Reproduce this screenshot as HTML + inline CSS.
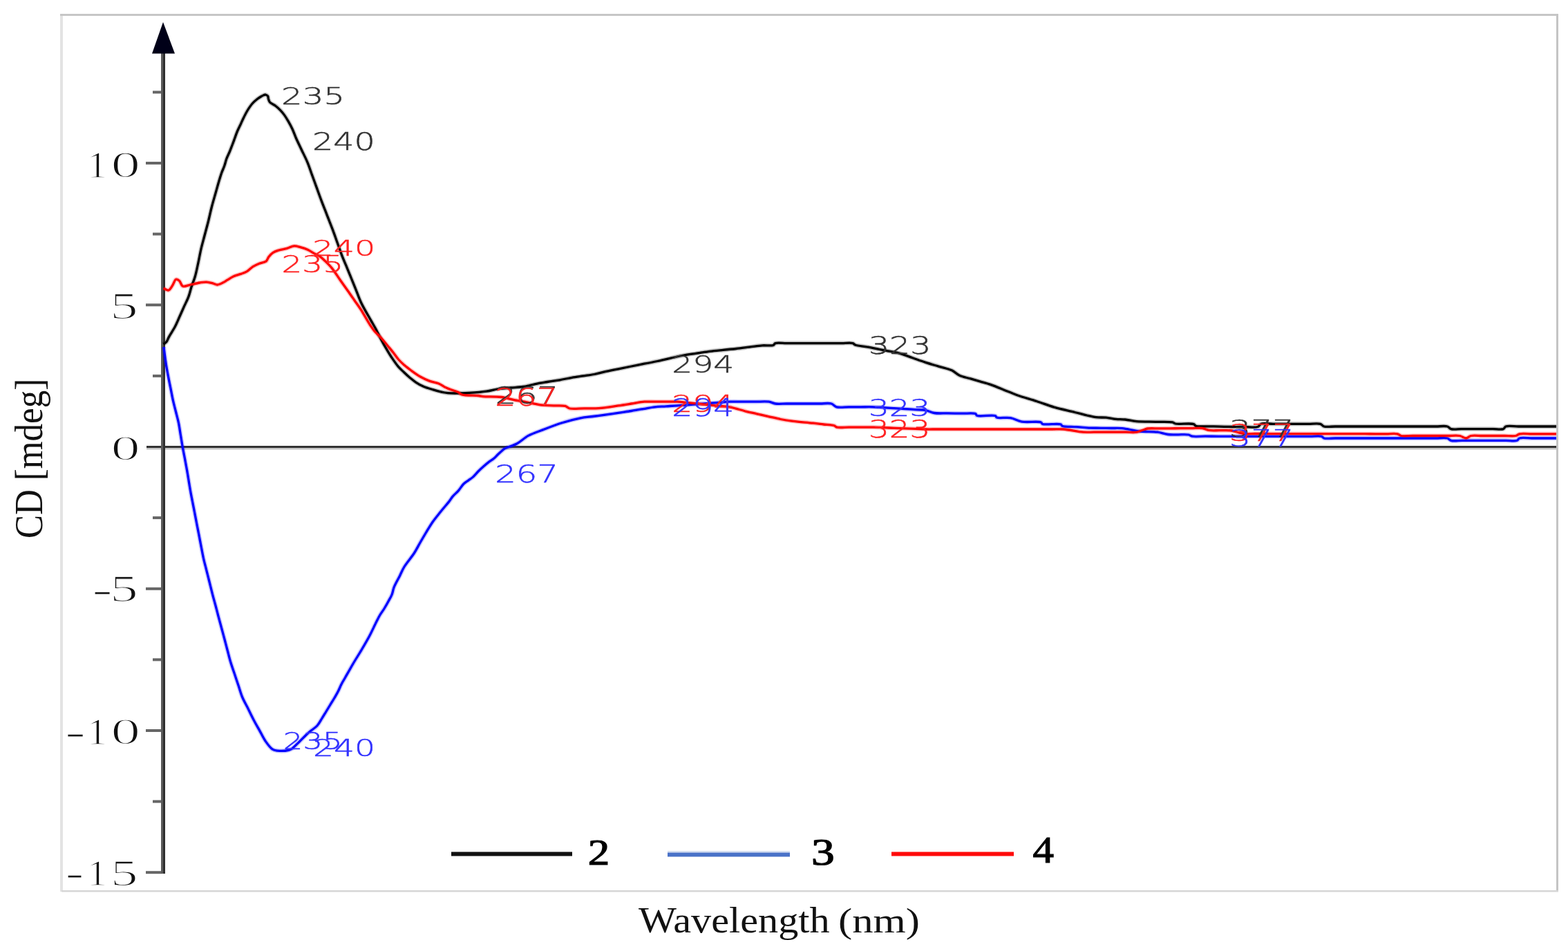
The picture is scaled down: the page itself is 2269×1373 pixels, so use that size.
<!DOCTYPE html><html><head><meta charset="utf-8"><title>CD spectra</title><style>html,body{margin:0;padding:0;background:#fff;width:2269px;height:1373px;overflow:hidden}svg{display:block}text{font-kerning:normal}</style></head><body><svg width="2269" height="1373" viewBox="0 0 2269 1373">
<rect width="2269" height="1373" fill="#fff"/>
<rect x="87" y="20" width="4" height="1270" fill="#e3e3e3"/>
<rect x="87" y="20" width="2168" height="3" fill="#c6c6c6"/>
<rect x="2252" y="20" width="3" height="1270" fill="#c4c4c4"/>
<rect x="89" y="1288" width="2166" height="2.5" fill="#d6d6d6"/>
<rect x="212" y="645" width="2040" height="3" fill="#333"/>
<rect x="212" y="648" width="2040" height="2.5" fill="#c4c4c4"/>
<rect x="211" y="234.0" width="23" height="4" fill="#666"/>
<rect x="211" y="439.2" width="23" height="4" fill="#666"/>
<rect x="211" y="849.8" width="23" height="4" fill="#666"/>
<rect x="211" y="1055.0" width="23" height="4" fill="#666"/>
<rect x="211" y="1260.2" width="23" height="4" fill="#666"/>
<rect x="221" y="131.4" width="13" height="4" fill="#666"/>
<rect x="221" y="336.6" width="13" height="4" fill="#666"/>
<rect x="221" y="541.9" width="13" height="4" fill="#666"/>
<rect x="221" y="747.1" width="13" height="4" fill="#666"/>
<rect x="221" y="952.4" width="13" height="4" fill="#666"/>
<rect x="221" y="1157.6" width="13" height="4" fill="#666"/>
<rect x="233" y="70" width="3" height="1194" fill="#5a5a5a"/>
<rect x="236" y="70" width="3" height="1194" fill="#303030"/>
<polygon points="236,32 253,77.5 220,77.5" fill="#000018"/>
<path d="M236.5,498.0 C237.2,497.4 239.6,496.2 240.8,494.7 C242.3,492.9 242.9,490.2 244.5,487.4 C246.7,483.3 250.6,477.7 253.2,472.8 C255.7,468.0 257.6,463.1 259.8,458.3 C262.0,453.4 264.1,448.6 266.3,443.7 C268.5,438.8 271.1,434.0 272.9,429.1 C274.7,424.3 275.6,419.4 277.2,414.6 C278.8,409.7 280.8,405.3 282.3,400.0 C284.1,393.9 285.4,386.7 286.9,380.0 C288.3,373.3 289.5,366.6 291.0,360.0 C292.6,353.3 294.5,346.7 296.2,340.0 C298.0,333.3 299.8,326.7 301.5,320.0 C303.2,313.3 304.5,306.6 306.2,300.0 C307.9,293.3 309.9,286.7 311.8,280.0 C313.7,273.3 315.8,265.5 317.5,260.0 C318.7,256.1 319.5,253.3 320.7,250.0 C321.9,246.6 323.5,243.4 324.7,240.0 C325.9,236.7 326.5,233.3 327.7,230.0 C328.9,226.6 330.7,223.3 332.1,220.0 C333.5,216.7 334.7,213.3 336.0,210.0 C337.3,206.7 338.5,203.3 339.7,200.0 C340.9,196.7 342.0,193.3 343.4,190.0 C344.8,186.6 346.5,183.3 348.1,180.0 C349.6,176.7 351.1,173.3 352.7,170.0 C354.4,166.6 356.0,163.3 358.0,160.0 C360.1,156.6 362.5,152.9 365.0,150.0 C367.2,147.5 369.7,145.3 372.0,143.5 C374.0,141.9 376.3,140.5 378.0,139.5 C379.2,138.8 380.2,138.2 381.3,137.8 C382.3,137.4 383.2,136.9 384.2,137.0 C385.3,137.2 386.8,138.0 387.5,139.0 C388.3,140.1 388.0,141.9 388.5,143.3 C389.0,144.9 389.4,146.6 390.6,148.0 C392.3,150.0 396.3,151.3 398.8,153.2 C401.3,155.1 403.6,157.3 405.8,159.6 C407.9,161.8 409.7,164.0 411.6,166.6 C413.6,169.4 415.5,172.6 417.4,175.9 C419.4,179.4 421.4,183.1 423.2,187.0 C425.1,191.1 426.5,195.4 428.5,200.0 C430.9,205.4 433.9,211.5 436.6,217.3 C439.4,223.1 442.3,228.7 444.8,234.6 C447.3,240.5 449.2,246.7 451.4,252.7 C453.6,258.8 455.8,264.8 458.0,270.9 C460.2,276.9 462.4,283.3 464.6,289.0 C466.6,294.2 468.4,298.9 470.4,303.9 C472.3,308.8 474.2,313.8 476.1,318.7 C478.1,323.7 480.0,328.4 481.9,333.6 C484.0,339.1 486.0,345.2 488.1,351.0 C490.2,356.7 492.1,362.5 494.3,368.3 C496.5,374.1 499.0,379.9 501.4,385.6 C503.8,391.4 506.1,397.2 508.5,403.0 C510.8,408.8 513.2,414.6 515.5,420.4 C517.8,426.1 519.5,431.5 522.5,437.7 C526.2,445.5 532.5,456.0 536.5,463.1 C539.4,468.2 541.5,471.6 544.0,476.2 C546.7,481.2 549.3,487.1 551.9,492.0 C554.2,496.4 556.4,500.2 558.8,504.2 C561.1,508.2 563.3,511.9 566.0,516.0 C569.1,520.6 572.9,526.4 576.3,530.4 C579.0,533.6 581.5,535.7 584.2,538.3 C587.0,541.0 589.9,543.7 592.9,546.2 C595.8,548.6 598.5,551.0 601.7,553.1 C605.1,555.4 609.0,557.6 613.0,559.3 C617.2,561.1 621.5,562.2 626.2,563.6 C631.6,565.2 638.7,567.1 643.6,568.0 C647.1,568.6 648.8,568.8 652.6,568.9 C659.1,569.1 670.3,568.8 679.0,568.3 C687.5,567.8 696.4,567.2 704.0,566.1 C710.4,565.2 715.8,563.4 721.7,562.6 C727.6,561.8 733.5,561.6 739.4,561.0 C745.2,560.5 751.2,560.4 757.0,559.5 C762.9,558.6 768.7,556.8 774.6,555.6 C780.5,554.4 786.3,553.5 792.2,552.5 C798.1,551.5 803.9,550.8 809.8,549.8 C815.7,548.8 821.7,547.3 827.5,546.3 C833.0,545.3 838.3,544.7 843.8,543.9 C849.2,543.1 854.6,542.5 860.0,541.5 C865.3,540.5 870.3,538.9 875.8,537.7 C881.8,536.4 888.4,535.1 894.7,533.9 C901.0,532.6 907.3,531.3 913.6,530.0 C919.9,528.7 926.2,527.5 932.5,526.2 C938.9,525.0 945.2,523.8 951.5,522.5 C957.8,521.2 964.1,519.7 970.5,518.2 C976.8,516.8 983.1,515.2 989.4,514.0 C995.7,512.8 1002.0,512.1 1008.3,511.1 C1014.7,510.2 1021.0,509.1 1027.3,508.3 C1033.6,507.5 1039.9,507.0 1046.2,506.4 C1052.6,505.8 1058.9,505.2 1065.2,504.5 C1071.5,503.8 1077.8,502.9 1084.1,502.1 C1090.4,501.4 1097.0,500.3 1103.0,499.8 C1108.5,499.4 1115.9,500.7 1119.0,499.4 C1120.6,498.8 1120.4,497.2 1122.0,496.6 C1125.1,495.4 1132.7,496.6 1138.0,496.6 C1143.3,496.6 1148.7,496.6 1154.0,496.6 C1159.3,496.6 1164.7,496.6 1170.0,496.6 C1175.3,496.6 1180.7,496.6 1186.0,496.6 C1191.3,496.6 1196.7,496.6 1202.0,496.6 C1207.3,496.6 1212.7,496.6 1218.0,496.6 C1223.3,496.6 1230.7,495.6 1234.0,496.6 C1235.7,497.1 1235.8,498.3 1237.5,499.0 C1241.0,500.4 1250.2,501.1 1255.0,502.0 C1258.4,502.6 1260.2,502.9 1263.6,503.6 C1268.7,504.6 1276.2,506.1 1282.5,507.4 C1288.9,508.6 1295.2,509.4 1301.5,511.1 C1307.9,512.8 1314.1,515.5 1320.5,517.8 C1326.8,520.0 1333.1,522.3 1339.4,524.4 C1345.7,526.4 1352.0,528.2 1358.3,530.1 C1364.7,532.0 1371.9,533.3 1377.3,535.8 C1381.7,537.9 1384.4,541.3 1388.6,543.3 C1393.1,545.4 1398.7,546.3 1403.7,547.7 C1408.8,549.2 1413.8,550.7 1418.9,552.2 C1423.9,553.6 1428.7,554.8 1434.0,556.6 C1440.0,558.7 1446.7,561.6 1453.0,564.2 C1459.3,566.7 1465.0,569.2 1472.0,571.7 C1480.4,574.7 1490.8,577.5 1500.0,580.5 C1508.9,583.4 1517.7,586.9 1526.4,589.4 C1534.7,591.8 1544.4,593.8 1551.0,595.4 C1555.4,596.5 1558.3,597.3 1562.0,598.2 C1565.7,599.1 1569.1,600.1 1573.0,601.0 C1577.2,602.0 1581.8,603.2 1586.3,603.7 C1591.0,604.3 1595.8,603.8 1600.6,604.2 C1605.4,604.6 1610.3,605.9 1615.0,606.4 C1619.4,606.8 1623.4,606.5 1628.0,607.0 C1633.2,607.5 1638.4,609.1 1644.7,609.7 C1652.7,610.4 1663.3,610.1 1672.2,610.3 C1680.6,610.5 1691.7,609.8 1696.5,610.9 C1698.6,611.4 1698.7,612.5 1700.9,613.0 C1705.9,614.2 1722.8,611.9 1727.3,613.6 C1729.1,614.3 1728.9,615.8 1730.6,616.4 C1734.0,617.7 1742.0,616.6 1747.7,616.8 C1753.4,616.9 1759.2,617.0 1764.9,617.1 C1770.6,617.3 1776.1,617.4 1782.0,617.5 C1788.2,617.6 1794.7,617.5 1801.0,617.5 C1807.3,617.5 1815.9,619.0 1820.0,617.5 C1822.4,616.6 1822.6,614.2 1825.0,613.3 C1828.8,611.9 1836.4,613.3 1842.1,613.3 C1847.8,613.3 1853.5,613.3 1859.2,613.3 C1864.9,613.3 1870.6,613.3 1876.3,613.3 C1882.0,613.3 1887.7,613.3 1893.4,613.3 C1899.1,613.3 1906.5,612.1 1910.5,613.3 C1913.0,614.1 1913.5,616.2 1915.9,617.0 C1919.7,618.2 1926.7,617.0 1932.1,617.0 C1937.5,617.0 1942.9,617.0 1948.3,617.0 C1953.7,617.0 1959.1,617.0 1964.6,617.0 C1970.0,617.0 1975.4,617.0 1980.8,617.0 C1986.2,617.0 1991.6,617.0 1997.0,617.0 C2002.4,617.0 2007.8,617.0 2013.2,617.0 C2018.6,617.0 2024.0,617.0 2029.4,617.0 C2034.8,617.0 2040.2,617.0 2045.6,617.0 C2051.1,617.0 2056.5,617.0 2061.9,617.0 C2067.3,617.0 2072.7,617.0 2078.1,617.0 C2083.5,617.0 2090.5,615.8 2094.3,617.0 C2096.7,617.7 2097.3,619.9 2099.7,620.6 C2103.4,621.7 2109.8,620.6 2114.8,620.6 C2119.9,620.6 2124.9,620.6 2130.0,620.6 C2135.0,620.6 2140.1,620.6 2145.1,620.6 C2150.2,620.6 2155.2,620.6 2160.3,620.6 C2165.3,620.6 2172.2,621.9 2175.4,620.6 C2177.2,619.8 2177.1,617.8 2179.0,617.0 C2182.6,615.5 2191.2,617.0 2197.2,617.0 C2203.3,617.0 2209.4,617.0 2215.5,617.0 C2221.6,617.0 2227.7,617.0 2233.8,617.0 C2239.8,617.0 2249.0,617.0 2252.0,617.0" fill="none" stroke="#000" stroke-opacity="0.22" stroke-width="6.5" stroke-linejoin="round"/>
<path d="M237.0,502.0 C237.5,506.2 239.1,519.4 240.3,527.0 C241.3,533.3 242.3,538.6 243.4,544.4 C244.5,550.2 245.7,556.1 246.9,561.9 C248.1,567.7 249.1,573.7 250.4,579.4 C251.6,584.9 253.1,590.1 254.4,595.5 C255.7,600.9 257.3,606.1 258.4,611.6 C259.6,617.3 260.3,623.2 261.3,629.0 C262.3,634.9 263.2,640.7 264.2,646.5 C265.2,652.1 266.3,657.7 267.4,663.2 C268.4,668.8 269.5,674.6 270.5,680.0 C271.4,685.1 272.2,690.0 273.0,695.0 C273.8,700.0 274.6,704.9 275.5,710.0 C276.4,715.2 277.5,720.5 278.5,725.8 C279.5,731.0 280.6,736.3 281.6,741.5 C282.6,746.8 283.6,752.0 284.6,757.3 C285.7,762.8 286.8,768.5 287.9,774.0 C289.0,779.6 290.0,785.2 291.1,790.8 C292.2,796.3 293.2,801.9 294.4,807.5 C295.6,813.1 297.2,818.7 298.6,824.3 C300.0,829.9 301.4,835.4 302.8,841.0 C304.2,846.6 305.6,852.2 307.0,857.8 C308.4,863.4 310.0,869.0 311.5,874.5 C313.0,880.1 314.4,885.7 315.9,891.3 C317.4,896.8 318.9,902.4 320.4,908.0 C321.9,913.6 323.4,919.2 324.9,924.8 C326.4,930.4 327.8,935.9 329.3,941.5 C330.8,947.1 332.1,952.7 333.8,958.3 C335.5,963.9 337.5,969.5 339.4,975.0 C341.3,980.6 343.1,986.2 345.0,991.8 C346.9,997.3 348.3,1003.0 350.6,1008.5 C352.9,1014.2 356.2,1019.7 359.0,1025.2 C361.7,1030.8 364.4,1036.6 367.3,1042.0 C370.0,1047.2 372.9,1052.1 375.7,1057.1 C378.5,1062.1 380.9,1067.6 384.1,1072.2 C387.1,1076.5 390.7,1081.7 394.1,1083.9 C396.5,1085.5 398.4,1085.7 401.3,1086.1 C405.6,1086.6 413.9,1086.2 417.6,1085.3 C419.7,1084.8 420.5,1084.4 422.3,1083.3 C425.2,1081.4 429.2,1077.0 432.6,1073.7 C436.0,1070.4 439.8,1066.4 442.8,1063.5 C445.1,1061.3 446.8,1059.8 449.2,1057.8 C452.1,1055.4 456.2,1053.0 458.9,1050.0 C461.6,1047.1 463.4,1043.4 465.5,1040.0 C467.6,1036.7 469.6,1033.3 471.6,1030.0 C473.6,1026.7 475.7,1023.3 477.7,1020.0 C479.7,1016.7 481.8,1013.4 483.8,1010.0 C485.7,1006.7 487.7,1003.4 489.4,1000.0 C491.1,996.7 492.3,993.3 494.0,990.0 C495.7,986.6 497.5,983.9 499.7,980.0 C502.8,974.5 507.2,966.6 511.1,960.0 C515.0,953.3 519.4,946.7 523.3,940.0 C527.2,933.4 531.1,926.7 534.7,920.0 C538.2,913.4 541.7,905.5 544.5,900.0 C546.5,896.1 547.8,893.3 549.7,890.0 C551.7,886.6 554.2,883.4 556.3,880.0 C558.3,876.7 560.2,873.4 562.0,870.0 C563.8,866.7 565.9,863.4 567.2,860.0 C568.5,856.7 568.6,853.7 570.0,850.0 C571.9,845.0 576.0,838.2 578.6,832.9 C580.9,828.3 582.2,824.6 585.0,820.0 C588.7,813.9 595.5,806.3 599.5,800.0 C602.9,794.7 605.1,790.0 608.0,785.0 C610.9,780.0 613.8,775.0 616.8,770.0 C619.8,765.0 622.8,759.9 626.2,755.0 C629.8,749.9 633.9,745.0 637.9,740.0 C641.9,735.0 647.2,729.1 650.3,725.0 C652.4,722.3 653.2,720.4 655.2,718.1 C657.5,715.4 660.8,712.9 663.4,709.9 C666.1,706.8 668.3,702.6 671.0,700.0 C673.2,697.8 675.7,696.5 678.0,694.8 C680.2,693.2 682.3,692.0 684.4,690.1 C686.9,687.9 689.4,684.6 692.0,682.0 C694.5,679.5 697.0,677.2 699.5,675.0 C701.8,672.9 704.0,671.0 706.5,669.1 C709.1,667.1 712.3,665.3 714.7,663.3 C716.9,661.5 718.5,659.4 720.5,657.5 C722.6,655.5 725.1,653.2 726.9,651.7 C728.1,650.7 728.4,650.1 730.0,649.2 C733.5,647.1 742.6,644.8 748.3,641.7 C754.0,638.6 758.3,633.7 764.4,630.4 C771.4,626.6 780.4,623.9 788.4,620.8 C796.4,617.7 804.1,614.6 812.4,612.0 C821.2,609.2 831.7,606.4 840.0,604.8 C846.6,603.5 851.9,603.3 857.9,602.5 C863.9,601.7 869.8,601.0 875.8,600.2 C882.0,599.3 888.4,598.3 894.7,597.4 C901.0,596.4 907.5,595.5 913.6,594.5 C919.4,593.6 925.0,592.6 930.7,591.6 C936.3,590.7 942.1,589.4 947.7,588.8 C953.1,588.2 958.5,588.2 963.9,587.8 C969.2,587.5 974.7,587.3 980.0,586.9 C985.1,586.6 990.1,586.1 995.1,585.8 C1000.2,585.4 1005.2,585.0 1010.3,584.6 C1015.3,584.2 1020.4,583.9 1025.4,583.5 C1030.5,583.1 1035.5,582.7 1040.6,582.3 C1045.6,582.0 1050.4,581.4 1055.7,581.2 C1061.7,581.0 1068.3,581.2 1074.6,581.2 C1080.9,581.2 1087.3,581.2 1093.6,581.2 C1099.9,581.2 1107.3,580.5 1112.5,581.2 C1116.3,581.7 1118.4,583.5 1122.0,584.0 C1126.6,584.7 1132.8,584.0 1138.2,584.0 C1143.6,584.0 1149.0,584.0 1154.4,584.0 C1159.8,584.0 1165.2,584.0 1170.6,584.0 C1176.0,584.0 1181.4,584.0 1186.8,584.0 C1192.2,584.0 1198.7,582.8 1203.0,584.0 C1206.2,584.9 1207.4,587.9 1210.6,588.8 C1215.1,590.1 1222.4,588.8 1228.3,588.8 C1234.2,588.8 1240.0,588.8 1245.9,588.8 C1251.8,588.8 1257.9,588.6 1263.6,588.8 C1268.8,589.0 1273.7,589.4 1278.8,589.7 C1283.8,590.1 1288.9,590.4 1293.9,590.7 C1299.0,591.0 1304.0,591.3 1309.1,591.6 C1314.1,591.9 1319.2,592.2 1324.2,592.6 C1329.3,592.9 1334.6,592.6 1339.4,593.5 C1343.8,594.3 1347.3,596.7 1352.0,597.5 C1357.8,598.5 1365.2,597.7 1371.8,597.9 C1378.4,598.0 1385.1,598.1 1391.7,598.2 C1398.3,598.4 1408.3,597.1 1411.5,598.6 C1412.8,599.2 1412.3,600.6 1413.7,601.3 C1417.5,603.1 1436.4,599.8 1440.2,601.6 C1441.6,602.2 1441.1,603.5 1442.4,604.1 C1445.6,605.6 1456.0,603.5 1462.2,604.6 C1468.0,605.6 1472.4,609.0 1478.7,610.1 C1486.6,611.5 1502.4,609.1 1506.3,610.9 C1507.7,611.5 1507.1,612.8 1508.5,613.4 C1512.3,615.2 1531.2,612.3 1535.0,614.0 C1536.3,614.6 1535.9,615.6 1537.1,616.2 C1540.3,617.7 1550.6,617.2 1557.3,617.7 C1564.0,618.1 1571.2,618.8 1577.5,619.1 C1583.0,619.3 1587.8,619.2 1592.9,619.3 C1598.0,619.4 1603.2,619.4 1608.3,619.5 C1613.4,619.6 1617.9,619.2 1623.7,619.7 C1631.3,620.4 1641.3,623.1 1650.0,624.0 C1658.4,624.9 1667.8,624.2 1675.0,625.2 C1680.7,626.0 1685.0,627.9 1690.0,628.5 C1695.0,629.1 1700.0,628.7 1705.0,628.8 C1710.0,628.8 1716.4,628.2 1720.0,629.0 C1722.2,629.5 1722.7,630.7 1725.0,631.2 C1729.2,632.1 1737.7,631.2 1744.0,631.2 C1750.3,631.2 1756.7,631.3 1763.0,631.3 C1769.3,631.3 1775.9,631.3 1782.0,631.3 C1787.6,631.3 1792.9,631.3 1798.3,631.3 C1803.7,631.3 1809.1,631.3 1814.6,631.3 C1820.0,631.3 1825.4,631.3 1830.9,631.3 C1836.3,631.3 1841.7,631.3 1847.2,631.3 C1852.6,631.4 1858.0,631.4 1863.4,631.4 C1868.9,631.4 1874.3,631.4 1879.7,631.4 C1885.2,631.4 1890.6,631.4 1896.0,631.4 C1901.4,631.4 1908.9,630.3 1912.3,631.4 C1914.1,632.0 1914.1,633.4 1915.9,634.0 C1919.3,635.1 1926.7,634.0 1932.1,634.0 C1937.5,634.0 1942.9,634.0 1948.3,634.0 C1953.7,634.0 1959.1,634.0 1964.6,634.0 C1970.0,634.0 1975.4,634.0 1980.8,634.0 C1986.2,634.0 1991.6,634.0 1997.0,634.0 C2002.4,634.0 2007.8,634.0 2013.2,634.0 C2018.6,634.0 2024.0,634.0 2029.4,634.0 C2034.8,634.0 2040.2,634.0 2045.6,634.0 C2051.1,634.0 2056.5,634.0 2061.9,634.0 C2067.3,634.0 2072.7,634.0 2078.1,634.0 C2083.5,634.0 2090.4,632.9 2094.3,634.0 C2096.7,634.7 2097.3,636.6 2099.7,637.3 C2103.5,638.4 2110.3,637.3 2115.6,637.3 C2120.9,637.3 2126.3,637.3 2131.6,637.3 C2136.9,637.3 2142.2,637.3 2147.5,637.3 C2152.8,637.3 2158.1,637.3 2163.4,637.3 C2168.7,637.3 2174.1,637.3 2179.4,637.3 C2184.7,637.3 2192.0,638.6 2195.3,637.3 C2197.1,636.6 2197.0,634.7 2198.9,634.0 C2202.4,632.6 2210.7,634.0 2216.6,634.0 C2222.5,634.0 2228.4,634.0 2234.3,634.0 C2240.2,634.0 2249.1,634.0 2252.0,634.0" fill="none" stroke="#0000ff" stroke-opacity="0.22" stroke-width="6.5" stroke-linejoin="round"/>
<path d="M236.5,417.0 C237.7,417.5 241.7,420.5 243.8,420.0 C246.1,419.4 247.8,415.6 249.6,413.0 C251.5,410.3 252.6,404.9 254.6,404.2 C256.1,403.7 258.0,405.0 259.5,406.2 C261.4,407.8 262.0,412.9 264.4,414.0 C267.1,415.2 271.4,412.8 275.2,412.0 C279.5,411.1 284.8,409.7 289.0,409.0 C292.5,408.5 295.5,407.9 298.8,408.1 C302.1,408.3 305.8,409.4 308.6,410.1 C310.8,410.7 312.4,412.0 314.5,412.0 C316.9,411.9 319.9,410.3 322.3,409.1 C324.6,408.0 326.5,406.6 328.8,405.2 C331.5,403.6 334.5,401.4 337.6,400.0 C340.9,398.5 344.8,397.6 348.2,396.4 C351.3,395.3 354.2,394.5 357.0,392.9 C360.1,391.1 362.7,387.8 365.8,385.8 C368.7,384.0 371.6,382.7 374.7,381.4 C378.0,380.0 382.8,379.8 385.2,377.9 C387.1,376.3 387.3,373.7 388.8,371.7 C390.5,369.5 392.5,367.2 394.9,365.6 C397.4,363.9 400.5,363.0 403.7,362.0 C407.2,360.9 411.5,360.4 415.2,359.4 C418.8,358.4 422.4,356.1 425.8,355.9 C428.8,355.7 431.6,356.8 434.6,357.6 C438.0,358.5 441.8,359.6 445.2,361.2 C448.8,362.8 452.5,365.6 455.7,367.3 C458.3,368.7 460.5,369.4 462.8,370.9 C465.2,372.6 467.3,374.6 469.8,377.0 C473.0,380.1 476.9,383.8 480.4,388.1 C484.5,393.1 488.4,399.7 492.5,405.5 C496.6,411.3 501.1,417.5 504.8,422.8 C507.9,427.3 510.5,431.1 513.4,435.2 C516.3,439.3 518.9,442.8 522.0,447.6 C526.1,453.9 531.7,464.4 535.5,470.1 C537.9,473.7 539.3,475.9 541.8,478.8 C544.7,482.2 548.7,485.7 551.9,489.3 C555.0,492.7 557.7,496.3 560.6,499.8 C563.4,503.2 566.3,506.5 569.0,510.0 C571.7,513.4 574.2,517.4 577.0,520.5 C579.6,523.4 582.2,525.7 585.1,528.3 C588.3,531.1 591.9,533.8 595.6,536.5 C599.7,539.5 604.2,542.8 608.7,545.3 C613.0,547.7 617.4,549.8 621.8,551.4 C626.1,553.0 631.1,553.3 634.9,554.9 C638.2,556.3 640.9,558.7 643.6,560.1 C645.9,561.2 647.5,561.8 650.0,562.8 C653.6,564.2 659.8,566.0 663.1,567.6 C665.3,568.7 665.9,570.1 668.4,570.9 C673.4,572.5 686.7,571.9 692.2,572.5 C695.1,572.8 695.9,573.3 698.8,573.6 C704.7,574.2 717.2,573.5 725.3,574.5 C732.4,575.4 738.5,577.5 745.1,578.8 C751.7,580.1 758.3,581.2 765.0,582.5 C771.6,583.7 778.5,585.4 784.8,586.1 C790.5,586.7 795.8,586.5 801.3,586.8 C806.8,587.0 813.6,586.3 817.8,587.4 C820.6,588.2 821.5,590.3 824.4,591.0 C829.3,592.2 838.4,590.9 845.3,590.9 C852.3,590.8 858.8,591.2 866.3,590.7 C875.1,590.1 886.2,588.1 894.7,586.9 C901.7,585.9 907.3,585.0 913.7,584.0 C920.0,583.1 926.6,581.7 932.6,581.2 C938.1,580.8 943.1,581.2 948.4,581.2 C953.7,581.2 958.9,581.2 964.2,581.2 C969.5,581.2 974.8,580.9 980.0,581.2 C985.1,581.5 990.1,582.2 995.1,582.7 C1000.2,583.2 1005.2,583.7 1010.3,584.2 C1015.3,584.7 1020.4,585.3 1025.4,585.8 C1030.5,586.3 1035.5,586.8 1040.6,587.3 C1045.6,587.8 1050.1,587.8 1055.7,588.8 C1062.9,590.1 1072.8,593.5 1080.0,595.3 C1085.7,596.7 1090.3,597.6 1095.5,598.8 C1100.7,600.0 1105.6,601.1 1111.0,602.3 C1116.9,603.6 1123.3,605.3 1129.4,606.5 C1135.5,607.7 1140.9,608.5 1147.7,609.4 C1156.2,610.5 1168.5,611.3 1176.6,612.2 C1182.5,612.8 1186.7,613.4 1191.8,614.0 C1196.9,614.5 1203.6,614.6 1207.0,615.7 C1208.9,616.3 1209.1,617.6 1211.0,618.1 C1214.7,619.1 1222.7,618.1 1228.5,618.1 C1234.4,618.1 1240.2,618.1 1246.1,618.1 C1251.9,618.1 1258.0,618.0 1263.6,618.1 C1268.8,618.2 1273.7,618.5 1278.8,618.7 C1283.8,618.9 1288.9,619.1 1293.9,619.3 C1299.0,619.5 1304.0,619.6 1309.1,619.8 C1314.1,620.0 1319.2,620.2 1324.2,620.4 C1329.3,620.6 1334.3,620.9 1339.4,621.0 C1344.5,621.1 1349.6,621.0 1354.7,621.0 C1359.9,621.0 1365.0,621.0 1370.1,621.0 C1375.2,621.0 1380.3,621.0 1385.4,621.0 C1390.5,621.0 1395.6,621.0 1400.8,621.0 C1405.9,621.0 1411.0,621.0 1416.1,621.0 C1421.2,621.0 1426.3,621.0 1431.4,621.0 C1436.5,621.0 1441.7,621.0 1446.8,621.0 C1451.9,621.0 1457.0,621.0 1462.1,621.0 C1467.2,621.0 1472.3,621.0 1477.4,621.0 C1482.6,621.0 1487.7,621.0 1492.8,621.0 C1497.9,621.0 1503.0,621.0 1508.1,621.0 C1513.2,621.0 1518.3,621.0 1523.5,621.0 C1528.6,621.0 1532.9,620.6 1538.8,621.0 C1546.9,621.6 1559.4,624.6 1567.5,625.2 C1573.4,625.6 1577.8,625.2 1583.0,625.2 C1588.2,625.2 1593.3,625.2 1598.5,625.2 C1603.7,625.2 1608.8,625.2 1614.0,625.2 C1619.2,625.2 1624.3,625.2 1629.5,625.2 C1634.7,625.2 1640.3,626.0 1645.0,625.2 C1649.0,624.5 1653.0,622.4 1656.0,621.5 C1658.0,620.9 1658.8,620.3 1661.0,620.0 C1664.8,619.4 1671.5,619.9 1676.8,619.9 C1682.1,619.9 1687.3,619.8 1692.6,619.8 C1697.9,619.8 1703.1,619.7 1708.4,619.7 C1713.7,619.7 1718.9,619.6 1724.2,619.6 C1729.5,619.6 1735.5,618.8 1740.0,619.5 C1743.5,620.0 1745.5,621.8 1749.0,622.4 C1753.6,623.2 1760.0,622.6 1765.5,622.7 C1771.0,622.8 1776.4,622.3 1782.0,623.0 C1787.9,623.8 1794.1,626.8 1800.0,627.5 C1805.4,628.2 1810.6,627.5 1815.9,627.5 C1821.2,627.5 1826.5,627.5 1831.7,627.5 C1837.0,627.5 1842.3,627.6 1847.6,627.6 C1852.9,627.6 1858.2,627.6 1863.5,627.6 C1868.8,627.6 1874.1,627.6 1879.4,627.6 C1884.6,627.6 1889.9,627.6 1895.2,627.6 C1900.5,627.6 1905.8,627.6 1911.1,627.6 C1916.4,627.7 1921.7,627.7 1927.0,627.7 C1932.3,627.7 1937.6,627.7 1942.8,627.7 C1948.1,627.7 1953.4,627.7 1958.7,627.7 C1964.0,627.7 1969.3,627.7 1974.6,627.7 C1979.9,627.7 1985.2,627.8 1990.5,627.8 C1995.7,627.8 2001.0,627.8 2006.3,627.8 C2011.6,627.8 2018.4,626.9 2022.2,627.8 C2024.6,628.4 2025.2,629.9 2027.6,630.5 C2031.6,631.4 2038.9,630.5 2044.5,630.5 C2050.2,630.5 2055.8,630.5 2061.5,630.5 C2067.1,630.5 2072.8,630.5 2078.4,630.5 C2084.1,630.5 2089.7,630.5 2095.4,630.5 C2101.0,630.5 2107.6,629.6 2112.3,630.5 C2115.9,631.2 2118.6,634.1 2121.4,634.0 C2124.0,633.9 2125.6,631.2 2128.6,630.5 C2132.8,629.5 2139.4,630.5 2144.8,630.5 C2150.2,630.5 2155.6,630.5 2161.1,630.5 C2166.5,630.5 2171.9,630.5 2177.3,630.5 C2182.7,630.5 2189.6,631.4 2193.5,630.5 C2195.9,629.9 2196.5,628.4 2198.9,627.8 C2203.0,626.8 2210.7,627.8 2216.6,627.8 C2222.5,627.8 2228.4,627.8 2234.3,627.8 C2240.2,627.8 2249.1,627.8 2252.0,627.8" fill="none" stroke="#ff0000" stroke-opacity="0.22" stroke-width="6.5" stroke-linejoin="round"/>
<path d="M236.5,498.0 C237.2,497.4 239.6,496.2 240.8,494.7 C242.3,492.9 242.9,490.2 244.5,487.4 C246.7,483.3 250.6,477.7 253.2,472.8 C255.7,468.0 257.6,463.1 259.8,458.3 C262.0,453.4 264.1,448.6 266.3,443.7 C268.5,438.8 271.1,434.0 272.9,429.1 C274.7,424.3 275.6,419.4 277.2,414.6 C278.8,409.7 280.8,405.3 282.3,400.0 C284.1,393.9 285.4,386.7 286.9,380.0 C288.3,373.3 289.5,366.6 291.0,360.0 C292.6,353.3 294.5,346.7 296.2,340.0 C298.0,333.3 299.8,326.7 301.5,320.0 C303.2,313.3 304.5,306.6 306.2,300.0 C307.9,293.3 309.9,286.7 311.8,280.0 C313.7,273.3 315.8,265.5 317.5,260.0 C318.7,256.1 319.5,253.3 320.7,250.0 C321.9,246.6 323.5,243.4 324.7,240.0 C325.9,236.7 326.5,233.3 327.7,230.0 C328.9,226.6 330.7,223.3 332.1,220.0 C333.5,216.7 334.7,213.3 336.0,210.0 C337.3,206.7 338.5,203.3 339.7,200.0 C340.9,196.7 342.0,193.3 343.4,190.0 C344.8,186.6 346.5,183.3 348.1,180.0 C349.6,176.7 351.1,173.3 352.7,170.0 C354.4,166.6 356.0,163.3 358.0,160.0 C360.1,156.6 362.5,152.9 365.0,150.0 C367.2,147.5 369.7,145.3 372.0,143.5 C374.0,141.9 376.3,140.5 378.0,139.5 C379.2,138.8 380.2,138.2 381.3,137.8 C382.3,137.4 383.2,136.9 384.2,137.0 C385.3,137.2 386.8,138.0 387.5,139.0 C388.3,140.1 388.0,141.9 388.5,143.3 C389.0,144.9 389.4,146.6 390.6,148.0 C392.3,150.0 396.3,151.3 398.8,153.2 C401.3,155.1 403.6,157.3 405.8,159.6 C407.9,161.8 409.7,164.0 411.6,166.6 C413.6,169.4 415.5,172.6 417.4,175.9 C419.4,179.4 421.4,183.1 423.2,187.0 C425.1,191.1 426.5,195.4 428.5,200.0 C430.9,205.4 433.9,211.5 436.6,217.3 C439.4,223.1 442.3,228.7 444.8,234.6 C447.3,240.5 449.2,246.7 451.4,252.7 C453.6,258.8 455.8,264.8 458.0,270.9 C460.2,276.9 462.4,283.3 464.6,289.0 C466.6,294.2 468.4,298.9 470.4,303.9 C472.3,308.8 474.2,313.8 476.1,318.7 C478.1,323.7 480.0,328.4 481.9,333.6 C484.0,339.1 486.0,345.2 488.1,351.0 C490.2,356.7 492.1,362.5 494.3,368.3 C496.5,374.1 499.0,379.9 501.4,385.6 C503.8,391.4 506.1,397.2 508.5,403.0 C510.8,408.8 513.2,414.6 515.5,420.4 C517.8,426.1 519.5,431.5 522.5,437.7 C526.2,445.5 532.5,456.0 536.5,463.1 C539.4,468.2 541.5,471.6 544.0,476.2 C546.7,481.2 549.3,487.1 551.9,492.0 C554.2,496.4 556.4,500.2 558.8,504.2 C561.1,508.2 563.3,511.9 566.0,516.0 C569.1,520.6 572.9,526.4 576.3,530.4 C579.0,533.6 581.5,535.7 584.2,538.3 C587.0,541.0 589.9,543.7 592.9,546.2 C595.8,548.6 598.5,551.0 601.7,553.1 C605.1,555.4 609.0,557.6 613.0,559.3 C617.2,561.1 621.5,562.2 626.2,563.6 C631.6,565.2 638.7,567.1 643.6,568.0 C647.1,568.6 648.8,568.8 652.6,568.9 C659.1,569.1 670.3,568.8 679.0,568.3 C687.5,567.8 696.4,567.2 704.0,566.1 C710.4,565.2 715.8,563.4 721.7,562.6 C727.6,561.8 733.5,561.6 739.4,561.0 C745.2,560.5 751.2,560.4 757.0,559.5 C762.9,558.6 768.7,556.8 774.6,555.6 C780.5,554.4 786.3,553.5 792.2,552.5 C798.1,551.5 803.9,550.8 809.8,549.8 C815.7,548.8 821.7,547.3 827.5,546.3 C833.0,545.3 838.3,544.7 843.8,543.9 C849.2,543.1 854.6,542.5 860.0,541.5 C865.3,540.5 870.3,538.9 875.8,537.7 C881.8,536.4 888.4,535.1 894.7,533.9 C901.0,532.6 907.3,531.3 913.6,530.0 C919.9,528.7 926.2,527.5 932.5,526.2 C938.9,525.0 945.2,523.8 951.5,522.5 C957.8,521.2 964.1,519.7 970.5,518.2 C976.8,516.8 983.1,515.2 989.4,514.0 C995.7,512.8 1002.0,512.1 1008.3,511.1 C1014.7,510.2 1021.0,509.1 1027.3,508.3 C1033.6,507.5 1039.9,507.0 1046.2,506.4 C1052.6,505.8 1058.9,505.2 1065.2,504.5 C1071.5,503.8 1077.8,502.9 1084.1,502.1 C1090.4,501.4 1097.0,500.3 1103.0,499.8 C1108.5,499.4 1115.9,500.7 1119.0,499.4 C1120.6,498.8 1120.4,497.2 1122.0,496.6 C1125.1,495.4 1132.7,496.6 1138.0,496.6 C1143.3,496.6 1148.7,496.6 1154.0,496.6 C1159.3,496.6 1164.7,496.6 1170.0,496.6 C1175.3,496.6 1180.7,496.6 1186.0,496.6 C1191.3,496.6 1196.7,496.6 1202.0,496.6 C1207.3,496.6 1212.7,496.6 1218.0,496.6 C1223.3,496.6 1230.7,495.6 1234.0,496.6 C1235.7,497.1 1235.8,498.3 1237.5,499.0 C1241.0,500.4 1250.2,501.1 1255.0,502.0 C1258.4,502.6 1260.2,502.9 1263.6,503.6 C1268.7,504.6 1276.2,506.1 1282.5,507.4 C1288.9,508.6 1295.2,509.4 1301.5,511.1 C1307.9,512.8 1314.1,515.5 1320.5,517.8 C1326.8,520.0 1333.1,522.3 1339.4,524.4 C1345.7,526.4 1352.0,528.2 1358.3,530.1 C1364.7,532.0 1371.9,533.3 1377.3,535.8 C1381.7,537.9 1384.4,541.3 1388.6,543.3 C1393.1,545.4 1398.7,546.3 1403.7,547.7 C1408.8,549.2 1413.8,550.7 1418.9,552.2 C1423.9,553.6 1428.7,554.8 1434.0,556.6 C1440.0,558.7 1446.7,561.6 1453.0,564.2 C1459.3,566.7 1465.0,569.2 1472.0,571.7 C1480.4,574.7 1490.8,577.5 1500.0,580.5 C1508.9,583.4 1517.7,586.9 1526.4,589.4 C1534.7,591.8 1544.4,593.8 1551.0,595.4 C1555.4,596.5 1558.3,597.3 1562.0,598.2 C1565.7,599.1 1569.1,600.1 1573.0,601.0 C1577.2,602.0 1581.8,603.2 1586.3,603.7 C1591.0,604.3 1595.8,603.8 1600.6,604.2 C1605.4,604.6 1610.3,605.9 1615.0,606.4 C1619.4,606.8 1623.4,606.5 1628.0,607.0 C1633.2,607.5 1638.4,609.1 1644.7,609.7 C1652.7,610.4 1663.3,610.1 1672.2,610.3 C1680.6,610.5 1691.7,609.8 1696.5,610.9 C1698.6,611.4 1698.7,612.5 1700.9,613.0 C1705.9,614.2 1722.8,611.9 1727.3,613.6 C1729.1,614.3 1728.9,615.8 1730.6,616.4 C1734.0,617.7 1742.0,616.6 1747.7,616.8 C1753.4,616.9 1759.2,617.0 1764.9,617.1 C1770.6,617.3 1776.1,617.4 1782.0,617.5 C1788.2,617.6 1794.7,617.5 1801.0,617.5 C1807.3,617.5 1815.9,619.0 1820.0,617.5 C1822.4,616.6 1822.6,614.2 1825.0,613.3 C1828.8,611.9 1836.4,613.3 1842.1,613.3 C1847.8,613.3 1853.5,613.3 1859.2,613.3 C1864.9,613.3 1870.6,613.3 1876.3,613.3 C1882.0,613.3 1887.7,613.3 1893.4,613.3 C1899.1,613.3 1906.5,612.1 1910.5,613.3 C1913.0,614.1 1913.5,616.2 1915.9,617.0 C1919.7,618.2 1926.7,617.0 1932.1,617.0 C1937.5,617.0 1942.9,617.0 1948.3,617.0 C1953.7,617.0 1959.1,617.0 1964.6,617.0 C1970.0,617.0 1975.4,617.0 1980.8,617.0 C1986.2,617.0 1991.6,617.0 1997.0,617.0 C2002.4,617.0 2007.8,617.0 2013.2,617.0 C2018.6,617.0 2024.0,617.0 2029.4,617.0 C2034.8,617.0 2040.2,617.0 2045.6,617.0 C2051.1,617.0 2056.5,617.0 2061.9,617.0 C2067.3,617.0 2072.7,617.0 2078.1,617.0 C2083.5,617.0 2090.5,615.8 2094.3,617.0 C2096.7,617.7 2097.3,619.9 2099.7,620.6 C2103.4,621.7 2109.8,620.6 2114.8,620.6 C2119.9,620.6 2124.9,620.6 2130.0,620.6 C2135.0,620.6 2140.1,620.6 2145.1,620.6 C2150.2,620.6 2155.2,620.6 2160.3,620.6 C2165.3,620.6 2172.2,621.9 2175.4,620.6 C2177.2,619.8 2177.1,617.8 2179.0,617.0 C2182.6,615.5 2191.2,617.0 2197.2,617.0 C2203.3,617.0 2209.4,617.0 2215.5,617.0 C2221.6,617.0 2227.7,617.0 2233.8,617.0 C2239.8,617.0 2249.0,617.0 2252.0,617.0" fill="none" stroke="#000" stroke-width="3.3" stroke-linejoin="round"/>
<path d="M237.0,502.0 C237.5,506.2 239.1,519.4 240.3,527.0 C241.3,533.3 242.3,538.6 243.4,544.4 C244.5,550.2 245.7,556.1 246.9,561.9 C248.1,567.7 249.1,573.7 250.4,579.4 C251.6,584.9 253.1,590.1 254.4,595.5 C255.7,600.9 257.3,606.1 258.4,611.6 C259.6,617.3 260.3,623.2 261.3,629.0 C262.3,634.9 263.2,640.7 264.2,646.5 C265.2,652.1 266.3,657.7 267.4,663.2 C268.4,668.8 269.5,674.6 270.5,680.0 C271.4,685.1 272.2,690.0 273.0,695.0 C273.8,700.0 274.6,704.9 275.5,710.0 C276.4,715.2 277.5,720.5 278.5,725.8 C279.5,731.0 280.6,736.3 281.6,741.5 C282.6,746.8 283.6,752.0 284.6,757.3 C285.7,762.8 286.8,768.5 287.9,774.0 C289.0,779.6 290.0,785.2 291.1,790.8 C292.2,796.3 293.2,801.9 294.4,807.5 C295.6,813.1 297.2,818.7 298.6,824.3 C300.0,829.9 301.4,835.4 302.8,841.0 C304.2,846.6 305.6,852.2 307.0,857.8 C308.4,863.4 310.0,869.0 311.5,874.5 C313.0,880.1 314.4,885.7 315.9,891.3 C317.4,896.8 318.9,902.4 320.4,908.0 C321.9,913.6 323.4,919.2 324.9,924.8 C326.4,930.4 327.8,935.9 329.3,941.5 C330.8,947.1 332.1,952.7 333.8,958.3 C335.5,963.9 337.5,969.5 339.4,975.0 C341.3,980.6 343.1,986.2 345.0,991.8 C346.9,997.3 348.3,1003.0 350.6,1008.5 C352.9,1014.2 356.2,1019.7 359.0,1025.2 C361.7,1030.8 364.4,1036.6 367.3,1042.0 C370.0,1047.2 372.9,1052.1 375.7,1057.1 C378.5,1062.1 380.9,1067.6 384.1,1072.2 C387.1,1076.5 390.7,1081.7 394.1,1083.9 C396.5,1085.5 398.4,1085.7 401.3,1086.1 C405.6,1086.6 413.9,1086.2 417.6,1085.3 C419.7,1084.8 420.5,1084.4 422.3,1083.3 C425.2,1081.4 429.2,1077.0 432.6,1073.7 C436.0,1070.4 439.8,1066.4 442.8,1063.5 C445.1,1061.3 446.8,1059.8 449.2,1057.8 C452.1,1055.4 456.2,1053.0 458.9,1050.0 C461.6,1047.1 463.4,1043.4 465.5,1040.0 C467.6,1036.7 469.6,1033.3 471.6,1030.0 C473.6,1026.7 475.7,1023.3 477.7,1020.0 C479.7,1016.7 481.8,1013.4 483.8,1010.0 C485.7,1006.7 487.7,1003.4 489.4,1000.0 C491.1,996.7 492.3,993.3 494.0,990.0 C495.7,986.6 497.5,983.9 499.7,980.0 C502.8,974.5 507.2,966.6 511.1,960.0 C515.0,953.3 519.4,946.7 523.3,940.0 C527.2,933.4 531.1,926.7 534.7,920.0 C538.2,913.4 541.7,905.5 544.5,900.0 C546.5,896.1 547.8,893.3 549.7,890.0 C551.7,886.6 554.2,883.4 556.3,880.0 C558.3,876.7 560.2,873.4 562.0,870.0 C563.8,866.7 565.9,863.4 567.2,860.0 C568.5,856.7 568.6,853.7 570.0,850.0 C571.9,845.0 576.0,838.2 578.6,832.9 C580.9,828.3 582.2,824.6 585.0,820.0 C588.7,813.9 595.5,806.3 599.5,800.0 C602.9,794.7 605.1,790.0 608.0,785.0 C610.9,780.0 613.8,775.0 616.8,770.0 C619.8,765.0 622.8,759.9 626.2,755.0 C629.8,749.9 633.9,745.0 637.9,740.0 C641.9,735.0 647.2,729.1 650.3,725.0 C652.4,722.3 653.2,720.4 655.2,718.1 C657.5,715.4 660.8,712.9 663.4,709.9 C666.1,706.8 668.3,702.6 671.0,700.0 C673.2,697.8 675.7,696.5 678.0,694.8 C680.2,693.2 682.3,692.0 684.4,690.1 C686.9,687.9 689.4,684.6 692.0,682.0 C694.5,679.5 697.0,677.2 699.5,675.0 C701.8,672.9 704.0,671.0 706.5,669.1 C709.1,667.1 712.3,665.3 714.7,663.3 C716.9,661.5 718.5,659.4 720.5,657.5 C722.6,655.5 725.1,653.2 726.9,651.7 C728.1,650.7 728.4,650.1 730.0,649.2 C733.5,647.1 742.6,644.8 748.3,641.7 C754.0,638.6 758.3,633.7 764.4,630.4 C771.4,626.6 780.4,623.9 788.4,620.8 C796.4,617.7 804.1,614.6 812.4,612.0 C821.2,609.2 831.7,606.4 840.0,604.8 C846.6,603.5 851.9,603.3 857.9,602.5 C863.9,601.7 869.8,601.0 875.8,600.2 C882.0,599.3 888.4,598.3 894.7,597.4 C901.0,596.4 907.5,595.5 913.6,594.5 C919.4,593.6 925.0,592.6 930.7,591.6 C936.3,590.7 942.1,589.4 947.7,588.8 C953.1,588.2 958.5,588.2 963.9,587.8 C969.2,587.5 974.7,587.3 980.0,586.9 C985.1,586.6 990.1,586.1 995.1,585.8 C1000.2,585.4 1005.2,585.0 1010.3,584.6 C1015.3,584.2 1020.4,583.9 1025.4,583.5 C1030.5,583.1 1035.5,582.7 1040.6,582.3 C1045.6,582.0 1050.4,581.4 1055.7,581.2 C1061.7,581.0 1068.3,581.2 1074.6,581.2 C1080.9,581.2 1087.3,581.2 1093.6,581.2 C1099.9,581.2 1107.3,580.5 1112.5,581.2 C1116.3,581.7 1118.4,583.5 1122.0,584.0 C1126.6,584.7 1132.8,584.0 1138.2,584.0 C1143.6,584.0 1149.0,584.0 1154.4,584.0 C1159.8,584.0 1165.2,584.0 1170.6,584.0 C1176.0,584.0 1181.4,584.0 1186.8,584.0 C1192.2,584.0 1198.7,582.8 1203.0,584.0 C1206.2,584.9 1207.4,587.9 1210.6,588.8 C1215.1,590.1 1222.4,588.8 1228.3,588.8 C1234.2,588.8 1240.0,588.8 1245.9,588.8 C1251.8,588.8 1257.9,588.6 1263.6,588.8 C1268.8,589.0 1273.7,589.4 1278.8,589.7 C1283.8,590.1 1288.9,590.4 1293.9,590.7 C1299.0,591.0 1304.0,591.3 1309.1,591.6 C1314.1,591.9 1319.2,592.2 1324.2,592.6 C1329.3,592.9 1334.6,592.6 1339.4,593.5 C1343.8,594.3 1347.3,596.7 1352.0,597.5 C1357.8,598.5 1365.2,597.7 1371.8,597.9 C1378.4,598.0 1385.1,598.1 1391.7,598.2 C1398.3,598.4 1408.3,597.1 1411.5,598.6 C1412.8,599.2 1412.3,600.6 1413.7,601.3 C1417.5,603.1 1436.4,599.8 1440.2,601.6 C1441.6,602.2 1441.1,603.5 1442.4,604.1 C1445.6,605.6 1456.0,603.5 1462.2,604.6 C1468.0,605.6 1472.4,609.0 1478.7,610.1 C1486.6,611.5 1502.4,609.1 1506.3,610.9 C1507.7,611.5 1507.1,612.8 1508.5,613.4 C1512.3,615.2 1531.2,612.3 1535.0,614.0 C1536.3,614.6 1535.9,615.6 1537.1,616.2 C1540.3,617.7 1550.6,617.2 1557.3,617.7 C1564.0,618.1 1571.2,618.8 1577.5,619.1 C1583.0,619.3 1587.8,619.2 1592.9,619.3 C1598.0,619.4 1603.2,619.4 1608.3,619.5 C1613.4,619.6 1617.9,619.2 1623.7,619.7 C1631.3,620.4 1641.3,623.1 1650.0,624.0 C1658.4,624.9 1667.8,624.2 1675.0,625.2 C1680.7,626.0 1685.0,627.9 1690.0,628.5 C1695.0,629.1 1700.0,628.7 1705.0,628.8 C1710.0,628.8 1716.4,628.2 1720.0,629.0 C1722.2,629.5 1722.7,630.7 1725.0,631.2 C1729.2,632.1 1737.7,631.2 1744.0,631.2 C1750.3,631.2 1756.7,631.3 1763.0,631.3 C1769.3,631.3 1775.9,631.3 1782.0,631.3 C1787.6,631.3 1792.9,631.3 1798.3,631.3 C1803.7,631.3 1809.1,631.3 1814.6,631.3 C1820.0,631.3 1825.4,631.3 1830.9,631.3 C1836.3,631.3 1841.7,631.3 1847.2,631.3 C1852.6,631.4 1858.0,631.4 1863.4,631.4 C1868.9,631.4 1874.3,631.4 1879.7,631.4 C1885.2,631.4 1890.6,631.4 1896.0,631.4 C1901.4,631.4 1908.9,630.3 1912.3,631.4 C1914.1,632.0 1914.1,633.4 1915.9,634.0 C1919.3,635.1 1926.7,634.0 1932.1,634.0 C1937.5,634.0 1942.9,634.0 1948.3,634.0 C1953.7,634.0 1959.1,634.0 1964.6,634.0 C1970.0,634.0 1975.4,634.0 1980.8,634.0 C1986.2,634.0 1991.6,634.0 1997.0,634.0 C2002.4,634.0 2007.8,634.0 2013.2,634.0 C2018.6,634.0 2024.0,634.0 2029.4,634.0 C2034.8,634.0 2040.2,634.0 2045.6,634.0 C2051.1,634.0 2056.5,634.0 2061.9,634.0 C2067.3,634.0 2072.7,634.0 2078.1,634.0 C2083.5,634.0 2090.4,632.9 2094.3,634.0 C2096.7,634.7 2097.3,636.6 2099.7,637.3 C2103.5,638.4 2110.3,637.3 2115.6,637.3 C2120.9,637.3 2126.3,637.3 2131.6,637.3 C2136.9,637.3 2142.2,637.3 2147.5,637.3 C2152.8,637.3 2158.1,637.3 2163.4,637.3 C2168.7,637.3 2174.1,637.3 2179.4,637.3 C2184.7,637.3 2192.0,638.6 2195.3,637.3 C2197.1,636.6 2197.0,634.7 2198.9,634.0 C2202.4,632.6 2210.7,634.0 2216.6,634.0 C2222.5,634.0 2228.4,634.0 2234.3,634.0 C2240.2,634.0 2249.1,634.0 2252.0,634.0" fill="none" stroke="#0000ff" stroke-width="3.3" stroke-linejoin="round"/>
<path d="M236.5,417.0 C237.7,417.5 241.7,420.5 243.8,420.0 C246.1,419.4 247.8,415.6 249.6,413.0 C251.5,410.3 252.6,404.9 254.6,404.2 C256.1,403.7 258.0,405.0 259.5,406.2 C261.4,407.8 262.0,412.9 264.4,414.0 C267.1,415.2 271.4,412.8 275.2,412.0 C279.5,411.1 284.8,409.7 289.0,409.0 C292.5,408.5 295.5,407.9 298.8,408.1 C302.1,408.3 305.8,409.4 308.6,410.1 C310.8,410.7 312.4,412.0 314.5,412.0 C316.9,411.9 319.9,410.3 322.3,409.1 C324.6,408.0 326.5,406.6 328.8,405.2 C331.5,403.6 334.5,401.4 337.6,400.0 C340.9,398.5 344.8,397.6 348.2,396.4 C351.3,395.3 354.2,394.5 357.0,392.9 C360.1,391.1 362.7,387.8 365.8,385.8 C368.7,384.0 371.6,382.7 374.7,381.4 C378.0,380.0 382.8,379.8 385.2,377.9 C387.1,376.3 387.3,373.7 388.8,371.7 C390.5,369.5 392.5,367.2 394.9,365.6 C397.4,363.9 400.5,363.0 403.7,362.0 C407.2,360.9 411.5,360.4 415.2,359.4 C418.8,358.4 422.4,356.1 425.8,355.9 C428.8,355.7 431.6,356.8 434.6,357.6 C438.0,358.5 441.8,359.6 445.2,361.2 C448.8,362.8 452.5,365.6 455.7,367.3 C458.3,368.7 460.5,369.4 462.8,370.9 C465.2,372.6 467.3,374.6 469.8,377.0 C473.0,380.1 476.9,383.8 480.4,388.1 C484.5,393.1 488.4,399.7 492.5,405.5 C496.6,411.3 501.1,417.5 504.8,422.8 C507.9,427.3 510.5,431.1 513.4,435.2 C516.3,439.3 518.9,442.8 522.0,447.6 C526.1,453.9 531.7,464.4 535.5,470.1 C537.9,473.7 539.3,475.9 541.8,478.8 C544.7,482.2 548.7,485.7 551.9,489.3 C555.0,492.7 557.7,496.3 560.6,499.8 C563.4,503.2 566.3,506.5 569.0,510.0 C571.7,513.4 574.2,517.4 577.0,520.5 C579.6,523.4 582.2,525.7 585.1,528.3 C588.3,531.1 591.9,533.8 595.6,536.5 C599.7,539.5 604.2,542.8 608.7,545.3 C613.0,547.7 617.4,549.8 621.8,551.4 C626.1,553.0 631.1,553.3 634.9,554.9 C638.2,556.3 640.9,558.7 643.6,560.1 C645.9,561.2 647.5,561.8 650.0,562.8 C653.6,564.2 659.8,566.0 663.1,567.6 C665.3,568.7 665.9,570.1 668.4,570.9 C673.4,572.5 686.7,571.9 692.2,572.5 C695.1,572.8 695.9,573.3 698.8,573.6 C704.7,574.2 717.2,573.5 725.3,574.5 C732.4,575.4 738.5,577.5 745.1,578.8 C751.7,580.1 758.3,581.2 765.0,582.5 C771.6,583.7 778.5,585.4 784.8,586.1 C790.5,586.7 795.8,586.5 801.3,586.8 C806.8,587.0 813.6,586.3 817.8,587.4 C820.6,588.2 821.5,590.3 824.4,591.0 C829.3,592.2 838.4,590.9 845.3,590.9 C852.3,590.8 858.8,591.2 866.3,590.7 C875.1,590.1 886.2,588.1 894.7,586.9 C901.7,585.9 907.3,585.0 913.7,584.0 C920.0,583.1 926.6,581.7 932.6,581.2 C938.1,580.8 943.1,581.2 948.4,581.2 C953.7,581.2 958.9,581.2 964.2,581.2 C969.5,581.2 974.8,580.9 980.0,581.2 C985.1,581.5 990.1,582.2 995.1,582.7 C1000.2,583.2 1005.2,583.7 1010.3,584.2 C1015.3,584.7 1020.4,585.3 1025.4,585.8 C1030.5,586.3 1035.5,586.8 1040.6,587.3 C1045.6,587.8 1050.1,587.8 1055.7,588.8 C1062.9,590.1 1072.8,593.5 1080.0,595.3 C1085.7,596.7 1090.3,597.6 1095.5,598.8 C1100.7,600.0 1105.6,601.1 1111.0,602.3 C1116.9,603.6 1123.3,605.3 1129.4,606.5 C1135.5,607.7 1140.9,608.5 1147.7,609.4 C1156.2,610.5 1168.5,611.3 1176.6,612.2 C1182.5,612.8 1186.7,613.4 1191.8,614.0 C1196.9,614.5 1203.6,614.6 1207.0,615.7 C1208.9,616.3 1209.1,617.6 1211.0,618.1 C1214.7,619.1 1222.7,618.1 1228.5,618.1 C1234.4,618.1 1240.2,618.1 1246.1,618.1 C1251.9,618.1 1258.0,618.0 1263.6,618.1 C1268.8,618.2 1273.7,618.5 1278.8,618.7 C1283.8,618.9 1288.9,619.1 1293.9,619.3 C1299.0,619.5 1304.0,619.6 1309.1,619.8 C1314.1,620.0 1319.2,620.2 1324.2,620.4 C1329.3,620.6 1334.3,620.9 1339.4,621.0 C1344.5,621.1 1349.6,621.0 1354.7,621.0 C1359.9,621.0 1365.0,621.0 1370.1,621.0 C1375.2,621.0 1380.3,621.0 1385.4,621.0 C1390.5,621.0 1395.6,621.0 1400.8,621.0 C1405.9,621.0 1411.0,621.0 1416.1,621.0 C1421.2,621.0 1426.3,621.0 1431.4,621.0 C1436.5,621.0 1441.7,621.0 1446.8,621.0 C1451.9,621.0 1457.0,621.0 1462.1,621.0 C1467.2,621.0 1472.3,621.0 1477.4,621.0 C1482.6,621.0 1487.7,621.0 1492.8,621.0 C1497.9,621.0 1503.0,621.0 1508.1,621.0 C1513.2,621.0 1518.3,621.0 1523.5,621.0 C1528.6,621.0 1532.9,620.6 1538.8,621.0 C1546.9,621.6 1559.4,624.6 1567.5,625.2 C1573.4,625.6 1577.8,625.2 1583.0,625.2 C1588.2,625.2 1593.3,625.2 1598.5,625.2 C1603.7,625.2 1608.8,625.2 1614.0,625.2 C1619.2,625.2 1624.3,625.2 1629.5,625.2 C1634.7,625.2 1640.3,626.0 1645.0,625.2 C1649.0,624.5 1653.0,622.4 1656.0,621.5 C1658.0,620.9 1658.8,620.3 1661.0,620.0 C1664.8,619.4 1671.5,619.9 1676.8,619.9 C1682.1,619.9 1687.3,619.8 1692.6,619.8 C1697.9,619.8 1703.1,619.7 1708.4,619.7 C1713.7,619.7 1718.9,619.6 1724.2,619.6 C1729.5,619.6 1735.5,618.8 1740.0,619.5 C1743.5,620.0 1745.5,621.8 1749.0,622.4 C1753.6,623.2 1760.0,622.6 1765.5,622.7 C1771.0,622.8 1776.4,622.3 1782.0,623.0 C1787.9,623.8 1794.1,626.8 1800.0,627.5 C1805.4,628.2 1810.6,627.5 1815.9,627.5 C1821.2,627.5 1826.5,627.5 1831.7,627.5 C1837.0,627.5 1842.3,627.6 1847.6,627.6 C1852.9,627.6 1858.2,627.6 1863.5,627.6 C1868.8,627.6 1874.1,627.6 1879.4,627.6 C1884.6,627.6 1889.9,627.6 1895.2,627.6 C1900.5,627.6 1905.8,627.6 1911.1,627.6 C1916.4,627.7 1921.7,627.7 1927.0,627.7 C1932.3,627.7 1937.6,627.7 1942.8,627.7 C1948.1,627.7 1953.4,627.7 1958.7,627.7 C1964.0,627.7 1969.3,627.7 1974.6,627.7 C1979.9,627.7 1985.2,627.8 1990.5,627.8 C1995.7,627.8 2001.0,627.8 2006.3,627.8 C2011.6,627.8 2018.4,626.9 2022.2,627.8 C2024.6,628.4 2025.2,629.9 2027.6,630.5 C2031.6,631.4 2038.9,630.5 2044.5,630.5 C2050.2,630.5 2055.8,630.5 2061.5,630.5 C2067.1,630.5 2072.8,630.5 2078.4,630.5 C2084.1,630.5 2089.7,630.5 2095.4,630.5 C2101.0,630.5 2107.6,629.6 2112.3,630.5 C2115.9,631.2 2118.6,634.1 2121.4,634.0 C2124.0,633.9 2125.6,631.2 2128.6,630.5 C2132.8,629.5 2139.4,630.5 2144.8,630.5 C2150.2,630.5 2155.6,630.5 2161.1,630.5 C2166.5,630.5 2171.9,630.5 2177.3,630.5 C2182.7,630.5 2189.6,631.4 2193.5,630.5 C2195.9,629.9 2196.5,628.4 2198.9,627.8 C2203.0,626.8 2210.7,627.8 2216.6,627.8 C2222.5,627.8 2228.4,627.8 2234.3,627.8 C2240.2,627.8 2249.1,627.8 2252.0,627.8" fill="none" stroke="#ff0000" stroke-width="3.3" stroke-linejoin="round"/>
<text transform="translate(407.03,151.16) scale(1.4038,1)" font-family="'DejaVu Sans', sans-serif" font-size="34.34" font-weight="200" fill="#333" stroke="#333" stroke-width="0.5">235</text>
<text transform="translate(451.97,217.25) scale(1.3651,1)" font-family="'DejaVu Sans', sans-serif" font-size="34.87" font-weight="200" fill="#333" stroke="#333" stroke-width="0.5">240</text>
<text transform="translate(716.65,584.15) scale(1.3831,1)" font-family="'DejaVu Sans', sans-serif" font-size="34.61" font-weight="200" fill="#333" stroke="#333" stroke-width="0.5">267</text>
<text transform="translate(972.19,538.86) scale(1.3713,1)" font-family="'DejaVu Sans', sans-serif" font-size="34.47" font-weight="200" fill="#333" stroke="#333" stroke-width="0.5">294</text>
<text transform="translate(1257.01,511.75) scale(1.3573,1)" font-family="'DejaVu Sans', sans-serif" font-size="34.87" font-weight="200" fill="#333" stroke="#333" stroke-width="0.5">323</text>
<text transform="translate(1779.09,631.66) scale(1.4275,1)" font-family="'DejaVu Sans', sans-serif" font-size="34.21" font-weight="200" fill="#333" stroke="#333" stroke-width="0.5">377</text>
<text transform="translate(452.37,369.68) scale(1.4646,1)" font-family="'DejaVu Sans', sans-serif" font-size="32.50" font-weight="200" fill="#f22" stroke="#f22" stroke-width="0.5">240</text>
<text transform="translate(407.52,394.26) scale(1.3972,1)" font-family="'DejaVu Sans', sans-serif" font-size="33.55" font-weight="200" fill="#f22" stroke="#f22" stroke-width="0.5">235</text>
<text transform="translate(716.18,586.95) scale(1.3697,1)" font-family="'DejaVu Sans', sans-serif" font-size="34.61" font-weight="200" fill="#f22" stroke="#f22" stroke-width="0.5">267</text>
<text transform="translate(972.19,595.86) scale(1.3765,1)" font-family="'DejaVu Sans', sans-serif" font-size="34.34" font-weight="200" fill="#f22" stroke="#f22" stroke-width="0.5">294</text>
<text transform="translate(1257.06,632.95) scale(1.3423,1)" font-family="'DejaVu Sans', sans-serif" font-size="34.87" font-weight="200" fill="#f22" stroke="#f22" stroke-width="0.5">323</text>
<text transform="translate(1779.09,637.66) scale(1.4275,1)" font-family="'DejaVu Sans', sans-serif" font-size="34.21" font-weight="200" fill="#f22" stroke="#f22" stroke-width="0.5">377</text>
<text transform="translate(409.86,1084.27) scale(1.3582,1)" font-family="'DejaVu Sans', sans-serif" font-size="33.03" font-weight="200" fill="#33f" stroke="#33f" stroke-width="0.5">235</text>
<text transform="translate(453.00,1094.06) scale(1.3797,1)" font-family="'DejaVu Sans', sans-serif" font-size="34.21" font-weight="200" fill="#33f" stroke="#33f" stroke-width="0.5">240</text>
<text transform="translate(716.13,698.25) scale(1.3809,1)" font-family="'DejaVu Sans', sans-serif" font-size="34.87" font-weight="200" fill="#33f" stroke="#33f" stroke-width="0.5">267</text>
<text transform="translate(972.19,602.45) scale(1.3557,1)" font-family="'DejaVu Sans', sans-serif" font-size="34.87" font-weight="200" fill="#33f" stroke="#33f" stroke-width="0.5">294</text>
<text transform="translate(1257.06,601.66) scale(1.3949,1)" font-family="'DejaVu Sans', sans-serif" font-size="33.55" font-weight="200" fill="#33f" stroke="#33f" stroke-width="0.5">323</text>
<text transform="translate(1779.09,645.66) scale(1.4275,1)" font-family="'DejaVu Sans', sans-serif" font-size="34.21" font-weight="200" fill="#33f" stroke="#33f" stroke-width="0.5">377</text>
<text transform="translate(125.57,256.90) scale(1.1145,1)" font-family="'Liberation Serif', serif" font-size="54.09" font-weight="400" fill="#111" stroke="#fff" stroke-width="1.4">1</text>
<text transform="translate(160.60,255.85) scale(1.6190,1)" font-family="'Liberation Serif', serif" font-size="52.50" font-weight="400" fill="#111" stroke="#fff" stroke-width="1.4">0</text>
<text transform="translate(159.14,461.06) scale(1.4975,1)" font-family="'Liberation Serif', serif" font-size="54.09" font-weight="400" fill="#111" stroke="#fff" stroke-width="1.4">5</text>
<text transform="translate(160.62,664.98) scale(1.6612,1)" font-family="'Liberation Serif', serif" font-size="50.88" font-weight="400" fill="#111" stroke="#fff" stroke-width="1.4">0</text>
<text transform="translate(159.14,870.05) scale(1.4687,1)" font-family="'Liberation Serif', serif" font-size="55.15" font-weight="400" fill="#111" stroke="#fff" stroke-width="1.4">5</text>
<text transform="translate(125.57,1077.00) scale(1.0901,1)" font-family="'Liberation Serif', serif" font-size="55.30" font-weight="400" fill="#111" stroke="#fff" stroke-width="1.4">1</text>
<text transform="translate(160.60,1075.93) scale(1.5836,1)" font-family="'Liberation Serif', serif" font-size="53.68" font-weight="400" fill="#111" stroke="#fff" stroke-width="1.4">0</text>
<text transform="translate(125.57,1281.40) scale(1.1401,1)" font-family="'Liberation Serif', serif" font-size="52.88" font-weight="400" fill="#111" stroke="#fff" stroke-width="1.4">1</text>
<text transform="translate(159.94,1280.87) scale(1.4987,1)" font-family="'Liberation Serif', serif" font-size="52.88" font-weight="400" fill="#111" stroke="#fff" stroke-width="1.4">5</text>
<text transform="translate(133.35,870.60) scale(1.6923,1)" font-family="'Liberation Serif', serif" font-size="52.50" fill="#111" stroke="#fff" stroke-width="1.2">-</text>
<text transform="translate(94.00,1077.00) scale(1.7143,1)" font-family="'Liberation Serif', serif" font-size="52.50" fill="#111" stroke="#fff" stroke-width="1.2">-</text>
<text transform="translate(94.82,1281.40) scale(1.5165,1)" font-family="'Liberation Serif', serif" font-size="52.50" fill="#111" stroke="#fff" stroke-width="1.2">-</text>
<text transform="translate(923.90,1348.89) scale(1.1107,1)" font-family="'Liberation Serif', serif" font-size="52.44" font-weight="400" fill="#111">Wavelength</text>
<text transform="translate(1213.07,1348.50) scale(1.1799,1)" font-family="'Liberation Serif', serif" font-size="51.44" font-weight="400" fill="#111">(nm)</text>
<rect x="653" y="1232.5" width="175" height="6" fill="#111"/>
<rect x="966" y="1231" width="177" height="2.5" fill="#d6e0f1"/>
<rect x="966" y="1233.5" width="177" height="6" fill="#4a72c8"/>
<rect x="1290" y="1232.5" width="177" height="6" fill="#ff0a0a"/>
<text transform="translate(850.68,1251.07) scale(1.1810,1)" font-family="'Liberation Serif', serif" font-size="53.28" font-weight="400" fill="#000" stroke="#000" stroke-width="1.2">2</text>
<text transform="translate(1173.92,1251.46) scale(1.2539,1)" font-family="'Liberation Serif', serif" font-size="53.88" font-weight="400" fill="#000" stroke="#000" stroke-width="1.2">3</text>
<text transform="translate(1494.38,1248.06) scale(1.1289,1)" font-family="'Liberation Serif', serif" font-size="54.09" font-weight="400" fill="#000" stroke="#000" stroke-width="1.2">4</text>
<text transform="translate(61.18,779.04) scale(1.1293,1) rotate(-90)" font-family="'Liberation Serif', serif" font-size="51.09" fill="#111">CD [mdeg]</text>
</svg></body></html>
